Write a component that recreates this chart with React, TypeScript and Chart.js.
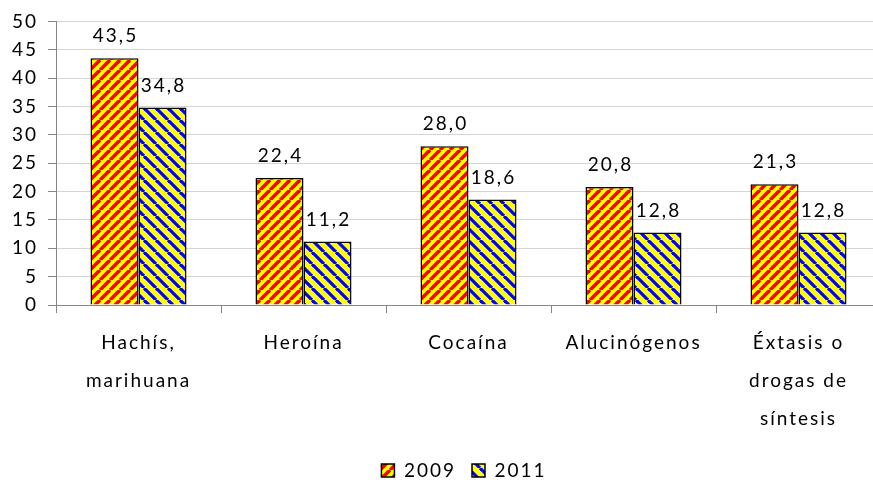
import React, { useEffect, useRef } from 'react';
import { Chart, registerables } from 'chart.js';

Chart.register(...registerables);

const categories: (string | string[])[] = [
  ['Hachís,', 'marihuana'],
  'Heroína',
  'Cocaína',
  'Alucinógenos',
  ['Éxtasis o', 'drogas de', 'síntesis'],
];
const seriesLabels = ['2009', '2011'];
const values2009 = [43.5, 22.4, 28.0, 20.8, 21.3];
const values2011 = [34.8, 11.2, 18.6, 12.8, 12.8];
const yMin = 0;
const yMax = 50;
const yStep = 5;

const FONT = 'Lato';
const FONT_SIZE = 19;
const SPACING = '2px';
const CANVAS_W = 928;
const CANVAS_H = 490;
const LEGEND_PAD = 16;

function stripePattern(
  ctx: CanvasRenderingContext2D,
  bg: string,
  fg: string,
  size: number,
  lw: number,
  dir: '/' | '\\'
) {
  const c = document.createElement('canvas');
  c.width = size;
  c.height = size;
  const x = c.getContext('2d')!;
  x.fillStyle = bg;
  x.fillRect(0, 0, size, size);
  x.strokeStyle = fg;
  x.lineWidth = lw;
  for (let k = -1; k <= 1; k++) {
    x.beginPath();
    if (dir === '/') {
      x.moveTo(k * size, size);
      x.lineTo(k * size + size, 0);
    } else {
      x.moveTo(k * size, 0);
      x.lineTo(k * size + size, size);
    }
    x.stroke();
  }
  return ctx.createPattern(c, 'repeat')!;
}

const spacingPlugin = {
  id: 'letterSpacing',
  beforeUpdate(chart: any) {
    chart.ctx.letterSpacing = SPACING;
  },
  beforeDraw(chart: any) {
    chart.ctx.letterSpacing = SPACING;
  },
};

const valueLabels = {
  id: 'valueLabels',
  afterDatasetsDraw(chart: any) {
    const ctx = chart.ctx as CanvasRenderingContext2D;
    ctx.save();
    ctx.font = `${FONT_SIZE}px ${FONT}`;
    ctx.fillStyle = '#000';
    ctx.textAlign = 'center';
    ctx.textBaseline = 'middle';
    chart.data.datasets.forEach((ds: any, i: number) => {
      const meta = chart.getDatasetMeta(i);
      meta.data.forEach((el: any, j: number) => {
        const v = ds.data[j] as number;
        ctx.fillText(v.toFixed(1).replace('.', ','), el.x + 1, el.y - 22);
      });
    });
    ctx.restore();
  },
};

export default function App() {
  const ref = useRef<HTMLCanvasElement>(null);

  useEffect(() => {
    const canvas = ref.current!;
    const ctx = canvas.getContext('2d')!;
    Chart.defaults.font.family = FONT;
    Chart.defaults.color = '#000';
    const p2009 = stripePattern(ctx, '#ffff00', '#ff0000', 10, 3.6, '/');
    const p2011 = stripePattern(ctx, '#ffff00', '#0000ff', 12, 3.2, '\\');
    const chart = new Chart(canvas, {
      type: 'bar',
      data: {
        labels: categories,
        datasets: [
          {
            label: seriesLabels[0],
            data: values2009,
            backgroundColor: p2009 as any,
            borderColor: '#000',
            borderWidth: 1.5,
            barPercentage: 1,
            categoryPercentage: 0.582,
          },
          {
            label: seriesLabels[1],
            data: values2011,
            backgroundColor: p2011 as any,
            borderColor: '#000',
            borderWidth: 1.5,
            barPercentage: 1,
            categoryPercentage: 0.582,
          },
        ],
      },
      options: {
        responsive: false,
        animation: false,
        devicePixelRatio: 1,
        layout: { padding: { top: 14, left: 0, right: 0, bottom: 0 } },
        plugins: {
          tooltip: { enabled: false },
          legend: {
            position: 'bottom',
            labels: {
              boxWidth: 13,
              boxHeight: 13,
              padding: LEGEND_PAD,
              color: '#000',
              font: { size: FONT_SIZE, family: FONT },
            },
          },
        },
        scales: {
          x: {
            grid: {
              display: true,
              drawOnChartArea: false,
              tickLength: 8,
              color: '#868686',
              offset: true,
            },
            border: { color: '#868686' },
            ticks: {
              color: '#000',
              font: { size: FONT_SIZE, family: FONT, lineHeight: 2 },
              padding: 11,
              maxRotation: 0,
              autoSkip: false,
            },
            afterFit: (s: any) => {
              s.height = CANVAS_H - (FONT_SIZE + LEGEND_PAD + 10) - 305;
            },
          },
          y: {
            min: yMin,
            max: yMax,
            ticks: {
              stepSize: yStep,
              color: '#000',
              font: { size: FONT_SIZE, family: FONT },
              padding: 10,
            },
            grid: { color: '#d4d4d4', tickColor: '#868686', tickLength: 8 },
            border: { color: '#868686' },
            afterFit: (s: any) => {
              s.width = 56;
            },
          },
          yRight: {
            position: 'right',
            display: true,
            grid: { display: false },
            ticks: { display: false },
            border: { display: false },
            afterFit: (s: any) => {
              s.width = CANVAS_W - 881;
            },
          },
        },
      },
      plugins: [spacingPlugin, valueLabels],
    });
    return () => chart.destroy();
  }, []);

  return (
    <div
      style={{
        position: 'fixed',
        left: 0,
        top: 0,
        width: 873,
        height: 484,
        overflow: 'hidden',
        background: '#fff',
      }}
    >
      <canvas ref={ref} width={CANVAS_W} height={CANVAS_H} style={{ display: 'block' }} />
    </div>
  );
}
